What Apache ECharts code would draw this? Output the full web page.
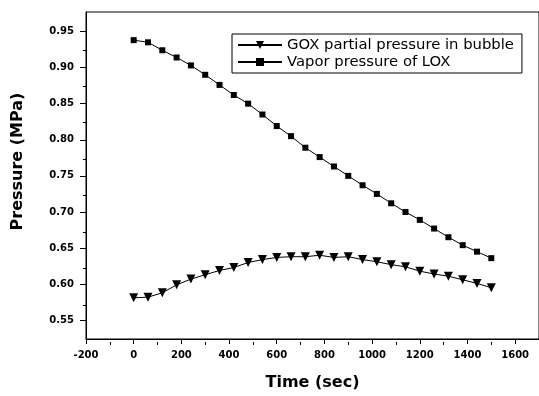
<!DOCTYPE html>
<html>
<head>
<meta charset="utf-8">
<script src="https://cdn.jsdelivr.net/npm/echarts@6/dist/echarts.min.js"></script>
<style>
  html, body { margin: 0; padding: 0; background: #fff; }
  #chart { width: 539px; height: 396px; }
</style>
</head>
<body>
<div id="chart"></div>
<script>
// time stamps (sec)
const times = [0, 60, 120, 180, 240, 300, 360, 420, 480, 540, 600, 660, 720,
  780, 840, 900, 960, 1020, 1080, 1140, 1200, 1260, 1320, 1380, 1440, 1500];
// GOX partial pressure in bubble (MPa)
const goxPressure = [0.581, 0.582, 0.588, 0.599, 0.607, 0.613, 0.619, 0.623, 0.630,
  0.634, 0.637, 0.638, 0.638, 0.640, 0.637, 0.638, 0.634, 0.631, 0.627, 0.624,
  0.618, 0.614, 0.611, 0.606, 0.601, 0.595];
// Vapor pressure of LOX (MPa)
const loxPressure = [0.938, 0.935, 0.924, 0.914, 0.903, 0.890, 0.876, 0.862, 0.850,
  0.835, 0.819, 0.805, 0.789, 0.776, 0.763, 0.750, 0.737, 0.725, 0.712, 0.700,
  0.689, 0.677, 0.665, 0.654, 0.645, 0.636];

const xTicks = [-200, 0, 200, 400, 600, 800, 1000, 1200, 1400, 1600];
const xMinorTicks = [-100, 100, 300, 500, 700, 900, 1100, 1300, 1500];
const yTicks = [0.55, 0.60, 0.65, 0.70, 0.75, 0.80, 0.85, 0.90, 0.95];
const yMinorTicks = [0.575, 0.625, 0.675, 0.725, 0.775, 0.825, 0.875, 0.925];

const xRange = [-200, 1700];
const yRange = [0.524, 0.977];

const FONT = "DejaVu Sans";

function pairs(xs, ys) {
  return xs.map((x, i) => [x, ys[i]]);
}

const chart = echarts.init(document.getElementById("chart"));

const gridRect = { left: 86, right: 0, top: 12, bottom: 54 };

const options = {
  animation: false,
  backgroundColor: "#fff",
  textStyle: { fontFamily: FONT, color: "#000" },
  grid: [
    Object.assign({ show: true, borderColor: "#000", borderWidth: 1 }, gridRect),
    Object.assign({ show: false }, gridRect) // only carries the minor ticks
  ],
  legend: {
    orient: "vertical",
    left: 232,
    top: 34,
    itemWidth: 44,
    itemHeight: 10,
    itemGap: 1,
    padding: [3, 8, 3, 5],
    borderColor: "#000",
    borderWidth: 1,
    textStyle: { fontFamily: FONT, fontSize: 14.8, lineHeight: 16, color: "#000" },
    data: ["GOX partial pressure in bubble", "Vapor pressure of LOX"]
  },
  xAxis: [
    {
      type: "value",
      gridIndex: 0,
      min: xRange[0],
      max: xRange[1],
      name: "Time (sec)",
      nameLocation: "middle",
      nameGap: 36,
      nameTextStyle: { fontFamily: FONT, fontSize: 16, fontWeight: "bold", color: "#000" },
      axisLine: { onZero: false, lineStyle: { color: "#000", width: 1 } },
      axisTick: { customValues: xTicks, length: 5, lineStyle: { color: "#000" } },
      axisLabel: {
        customValues: xTicks,
        margin: 11,
        fontFamily: FONT,
        fontSize: 10,
        fontWeight: "bold",
        color: "#000",
        formatter: v => String(v)
      },
      splitLine: { show: false }
    },
    {
      type: "value",
      gridIndex: 1,
      min: xRange[0],
      max: xRange[1],
      axisLine: { show: false, onZero: false },
      axisTick: { customValues: xMinorTicks, length: 3, lineStyle: { color: "#000" } },
      axisLabel: { show: false },
      splitLine: { show: false }
    }
  ],
  yAxis: [
    {
      type: "value",
      gridIndex: 0,
      min: yRange[0],
      max: yRange[1],
      name: "Pressure (MPa)",
      nameLocation: "middle",
      nameGap: 60,
      nameTextStyle: {
        fontFamily: FONT,
        fontSize: 16,
        fontWeight: "bold",
        color: "#000",
        padding: [0, 0, 0, 28]
      },
      axisLine: { onZero: false, lineStyle: { color: "#000", width: 1 } },
      axisTick: { customValues: yTicks, length: 6, lineStyle: { color: "#000" } },
      axisLabel: {
        customValues: yTicks,
        margin: 12,
        fontFamily: FONT,
        fontSize: 10,
        fontWeight: "bold",
        color: "#000",
        formatter: v => v.toFixed(2)
      },
      splitLine: { show: false }
    },
    {
      type: "value",
      gridIndex: 1,
      min: yRange[0],
      max: yRange[1],
      axisLine: { show: false, onZero: false },
      axisTick: { customValues: yMinorTicks, length: 3, lineStyle: { color: "#000" } },
      axisLabel: { show: false },
      splitLine: { show: false }
    }
  ],
  series: [
    {
      name: "GOX partial pressure in bubble",
      type: "line",
      xAxisIndex: 0,
      yAxisIndex: 0,
      data: pairs(times, goxPressure),
      symbol: "triangle",
      symbolRotate: 180,
      symbolSize: 9,
      itemStyle: { color: "#000" },
      lineStyle: { color: "#000", width: 1 }
    },
    {
      name: "Vapor pressure of LOX",
      type: "line",
      xAxisIndex: 0,
      yAxisIndex: 0,
      data: pairs(times, loxPressure),
      symbol: "rect",
      symbolSize: 6,
      itemStyle: { color: "#000" },
      lineStyle: { color: "#000", width: 1 }
    }
  ]
};

chart.setOption(options);
window.addEventListener("resize", () => chart.resize());
</script>
</body>
</html>
